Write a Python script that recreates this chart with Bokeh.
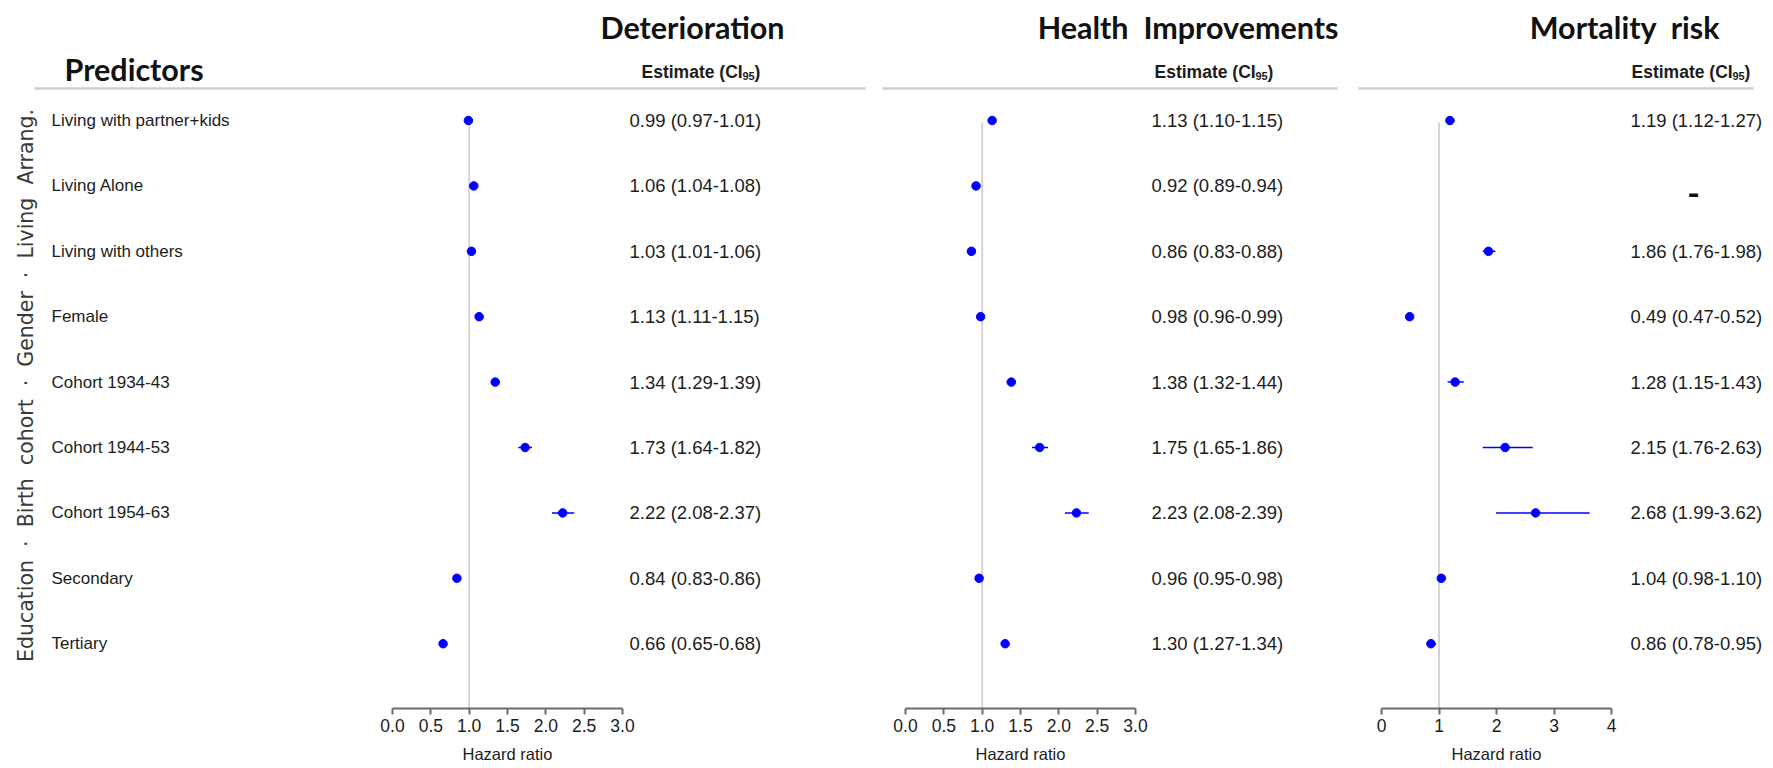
import math
from bokeh.plotting import figure
from bokeh.layouts import row
from bokeh.models import (Range1d, LinearAxis, FixedTicker, ColumnDataSource, Label,
                          PrintfTickFormatter, Title)
from bokeh.core.properties import value
from bokeh.embed import file_html
from bokeh.resources import INLINE

# ---- data -----------------------------------------------------------------
predictors = ["Living with partner+kids", "Living Alone", "Living with others", "Female",
              "Cohort 1934-43", "Cohort 1944-53", "Cohort 1954-63", "Secondary", "Tertiary"]
group_label = ("Education\u00a0\u00a0\u00b7\u00a0\u00a0Birth\u00a0\u00a0cohort\u00a0\u00a0\u00b7\u00a0\u00a0"
               "Gender\u00a0\u00a0\u00b7\u00a0\u00a0Living\u00a0\u00a0Arrang.")

det_est = [0.99, 1.06, 1.03, 1.13, 1.34, 1.73, 2.22, 0.84, 0.66]
det_lo = [0.97, 1.04, 1.01, 1.11, 1.29, 1.64, 2.08, 0.83, 0.65]
det_hi = [1.01, 1.08, 1.06, 1.15, 1.39, 1.82, 2.37, 0.86, 0.68]

imp_est = [1.13, 0.92, 0.86, 0.98, 1.38, 1.75, 2.23, 0.96, 1.30]
imp_lo = [1.10, 0.89, 0.83, 0.96, 1.32, 1.65, 2.08, 0.95, 1.27]
imp_hi = [1.15, 0.94, 0.88, 0.99, 1.44, 1.86, 2.39, 0.98, 1.34]

nan = float("nan")
mort_est = [1.19, nan, 1.86, 0.49, 1.28, 2.15, 2.68, 1.04, 0.86]
mort_lo = [1.12, nan, 1.76, 0.47, 1.15, 1.76, 1.99, 0.98, 0.78]
mort_hi = [1.27, nan, 1.98, 0.52, 1.43, 2.63, 3.62, 1.10, 0.95]

hr_ticks_short = [0.0, 0.5, 1.0, 1.5, 2.0, 2.5, 3.0]
hr_ticks_long = [0, 1, 2, 3, 4]

titles = ["Deterioration", "Health\u00a0\u00a0Improvements", "Mortality\u00a0\u00a0risk"]

# ---- layout ---------------------------------------------------------------
H = 768
FRAME_H = 708          # axis line sits at the frame bottom
ROW0 = 120             # first row, px from top
ROW_H = 65.4           # row pitch, px
TXT = "Liberation Sans"
INK = "#1c1c1c"
AXIS_TITLE_HALF = 45   # half width of the "Hazard ratio" caption, px


def ypx(p):
    return (p - ROW0) / ROW_H


def fmt(e, l, h):
    if math.isnan(e):
        return ""
    return f"{e:.2f} ({l:.2f}-{h:.2f})"


def make_panel(width, x0, ppu, est, lo, hi, ticks, tick_fmt, title, title_right,
               est_x, head_x, sep, first=False):
    def xpx(p):
        return (p - x0) / ppu

    p = figure(width=width, height=H, output_backend="svg", toolbar_location=None,
               x_range=Range1d(xpx(0), xpx(width)),
               y_range=Range1d((FRAME_H - ROW0) / ROW_H, -ROW0 / ROW_H),
               x_axis_location=None, y_axis_location=None,
               min_border_left=0, min_border_right=0, min_border_top=0,
               min_border_bottom=H - FRAME_H)
    p.outline_line_color = None
    p.grid.visible = False
    p.background_fill_color = "white"
    p.border_fill_color = "white"

    rows = list(range(len(predictors)))
    src = ColumnDataSource(dict(row=rows, est=est, lo=lo, hi=hi,
                                lab=[fmt(e, l, h) for e, l, h in zip(est, lo, hi)]))

    # reference line at HR = 1
    p.segment(x0=[1], y0=[ypx(ROW0 + 2)], x1=[1], y1=[ypx(FRAME_H)],
              line_color="#d4d4d4", line_width=2)

    # header rule
    p.segment(x0=[xpx(sep[0])], y0=[ypx(88)], x1=[xpx(sep[1])], y1=[ypx(88)],
              line_color="#cfcfcf", line_width=2.5)

    # confidence intervals and point estimates
    p.segment(x0="lo", y0="row", x1="hi", y1="row", source=src,
              line_color="#0000ff", line_width=1.5)
    p.scatter(x="est", y="row", source=src, size=8.5, fill_color="#0000ff",
              line_color="#0000ff")

    # estimate column
    p.text(x=xpx(est_x), y="row", text="lab", source=src,
           text_font=value(TXT), text_font_size="18.5px", text_color=INK,
           text_baseline="middle", text_align="left")

    # column header "Estimate (CI95)"
    hx = xpx(head_x)
    p.add_layout(Label(x=hx, y=ypx(71), text="Estimate (CI", text_font=TXT,
                       text_font_size="17.5px", text_font_style="bold", text_color=INK,
                       text_baseline="middle", text_align="left"))
    p.add_layout(Label(x=hx, y=ypx(71), x_offset=101, y_offset=-4, text="95", text_font=TXT,
                       text_font_size="11px", text_font_style="bold", text_color=INK,
                       text_baseline="middle", text_align="left"))
    p.add_layout(Label(x=hx, y=ypx(71), x_offset=113, text=")", text_font=TXT,
                       text_font_size="17.5px", text_font_style="bold", text_color=INK,
                       text_baseline="middle", text_align="left"))

    # panel title
    p.add_layout(Label(x=xpx(title_right), y=ypx(26), text=title, text_font="Lato",
                       text_font_size="30.5px", text_font_style="bold", text_color="#111111",
                       text_baseline="middle", text_align="right"))

    # axis
    ax = LinearAxis(bounds=(ticks[0], ticks[-1]), ticker=FixedTicker(ticks=ticks),
                    formatter=PrintfTickFormatter(format=tick_fmt))
    ax.axis_line_color = "#6b6b6b"
    ax.axis_line_width = 2
    ax.major_tick_line_color = "#6b6b6b"
    ax.major_tick_line_width = 2
    ax.major_tick_in = 0
    ax.major_tick_out = 6
    ax.minor_tick_line_color = None
    ax.major_label_text_font = TXT
    ax.major_label_text_font_size = "17.5px"
    ax.major_label_text_color = INK
    ax.major_label_standoff = 4
    p.add_layout(ax, "below")

    # small gap between tick labels and the axis caption
    p.add_layout(Title(text="\u00a0", text_font_size="5px", standoff=0), "below")

    # axis caption, centred under the bounded axis
    mid_px = x0 + ppu * (ticks[0] + ticks[-1]) / 2
    p.add_layout(Title(text="Hazard ratio", align="left", offset=mid_px - AXIS_TITLE_HALF,
                       text_font=TXT, text_font_size="16.5px", text_font_style="normal",
                       text_color=INK, standoff=0), "below")

    if first:
        p.text(x=xpx(51), y=rows, text=predictors, text_font=value(TXT),
               text_font_size="17px", text_color=INK,
               text_baseline="middle", text_align="left")
        p.add_layout(Label(x=xpx(64), y=ypx(68), text="Predictors", text_font="Lato",
                           text_font_size="30.5px", text_font_style="bold",
                           text_color="#111111", text_baseline="middle",
                           text_align="left"))
        p.add_layout(Label(x=xpx(25), y=ypx(385), text=group_label, angle=math.pi / 2,
                           text_font="DejaVu Sans", text_font_size="20.5px",
                           text_color="#3a3a3a", text_baseline="middle",
                           text_align="center"))
    return p, xpx


p1, _ = make_panel(874, 392, 230 / 3, det_est, det_lo, det_hi, hr_ticks_short, "%.1f",
                   titles[0], 784, 629, 641, (34, 865), first=True)
p2, _ = make_panel(472, 31, 230 / 3, imp_est, imp_lo, imp_hi, hr_ticks_short, "%.1f",
                   titles[1], 464, 277, 280, (8, 463))
p3, x3 = make_panel(427, 35, 230 / 4, mort_est, mort_lo, mort_hi, hr_ticks_long, "%d",
                    titles[2], 373, 284, 285, (12, 407))

# no mortality estimate for living alone
missing = [i for i, e in enumerate(mort_est) if math.isnan(e)]
p3.text(x=[x3(347)] * len(missing), y=[m + 0.12 for m in missing],
        text=["-"] * len(missing), text_font=value("Lato"), text_font_size="34px",
        text_font_style="bold", text_color="#111111",
        text_baseline="middle", text_align="center")

layout = row(p1, p2, p3, spacing=0)
open("out.html", "w").write(file_html(layout, INLINE))
